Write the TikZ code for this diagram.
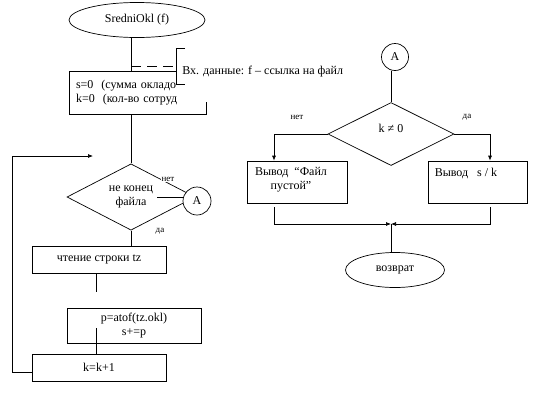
\documentclass[tikz,border=0pt]{standalone}
\usepackage{fontspec}
\setmainfont{Liberation Serif}
\usetikzlibrary{shapes.geometric, arrows.meta, positioning}

\begin{document}
\begin{tikzpicture}[x=1pt, y=-1pt, line width=0.7pt,
		every node/.style={font=\rmfamily\fontsize{12}{14}\selectfont},
		term/.style={draw, ellipse, inner sep=0pt},
		proc/.style={draw, rectangle, minimum width=134pt, minimum height=27pt, inner sep=0pt},
		cond/.style={draw, diamond, inner sep=0pt, minimum width=128pt, minimum height=63pt, align=center},
		conn/.style={draw, circle, fill=white, minimum size=28pt, inner sep=0pt},
		lbl/.style={font=\rmfamily\fontsize{9}{10}\selectfont, fill=white, inner sep=1pt},
		arrow/.style={-{Latex[length=5pt,width=4pt]}}
	]
	\useasboundingbox (0,0) rectangle (534,402);
	% main loop
	\coordinate (axis) at (131,0);
	\node[term, minimum width=136pt, minimum height=35pt] (start) at (137,20) {SredniOkl (f)};
	\node[proc, minimum width=137pt, minimum height=43pt, text width=123pt, align=left] (init) at (137.5,92.5) {s=0\ \ (сумма окладо\\k=0\ \ (кол-во сотруд};
	\fill[white] (176.5,46) rectangle (350,101.5);
	\draw (start.south -| axis) -- (init.north -| axis);
	\draw[dash pattern=on 10pt off 6pt] (axis |- 0,66) -- (176,66);
	\draw (185,48) -- (176,48) -- (176,84) -- (185,84);
	\node[anchor=west, inner sep=0pt] (note) at (182,72) {Вх. данные: f – ссылка на файл};
	\node[cond] (dec1) at (131,197) {не конец\\файла};
	\draw (init.south -| axis) -- (dec1.north);
	\node[conn] (A1) at (197,201) {A};
	\coordinate (nostub) at (157,197);
	\draw (nostub) -- (nostub -| A1.west);
	\node[lbl] at (168,179) {нет};
	\node[lbl] at (160,231) {да};
	\node[proc] (read) at (99,259.5) {чтение строки tz};
	\draw (dec1.south) -- (dec1.south |- read.north);
	\coordinate (stub1) at (96,292);
	\draw (read.south -| stub1) -- (stub1);
	\node[proc, minimum height=35pt, align=center] (calc) at (134,325.5) {p=atof(tz.okl)\\s+=p};
	\coordinate (stub2) at (96,328);
	\node[proc] (incr) at (99,367.5) {k=k+1};
	\draw (stub2) -- (stub2 |- incr.north);
	\coordinate (loopend) at (93,156);
	\draw[arrow] ([yshift=-4.5pt]incr.west) -- ++(-19,0) |- (loopend);
	% output part
	\node[conn, minimum size=27pt] (A2) at (395,57) {A};
	\node[cond, minimum width=126pt] (dec2) at (391,134) {};
	\node at (391,128) {k ≠ 0};
	\draw (dec2.north |- A2.south) -- (dec2.north);
	\node[proc, minimum width=100pt, minimum height=42pt] (outno) at (297,182) {};
	\node[align=center] at (291,179.5) {Вывод\ \ “Файл\\пустой”};
	\node[proc, minimum width=99pt, minimum height=42pt] (outyes) at (477.5,182) {};
	\node at (466,173) {Вывод\ \ \ s / k};
	\draw[arrow] (dec2.west) -| ([xshift=-23pt]outno.north);
	\draw[arrow] (dec2.east) -| ([xshift=12.5pt]outyes.north);
	\node[lbl] at (297,117) {нет};
	\node[lbl] at (467,117) {да};
	\coordinate (merge) at (391,224);
	\draw[arrow] ([xshift=-23pt, yshift=-4pt]outno.south) |- (merge);
	\draw[arrow] ([xshift=12.5pt, yshift=-4pt]outyes.south) |- (merge);
	\node[term, minimum width=99pt, minimum height=35pt] (ret) at (395,270) {возврат};
	\draw (merge) -- (merge |- ret.north);
\end{tikzpicture}
\end{document}
